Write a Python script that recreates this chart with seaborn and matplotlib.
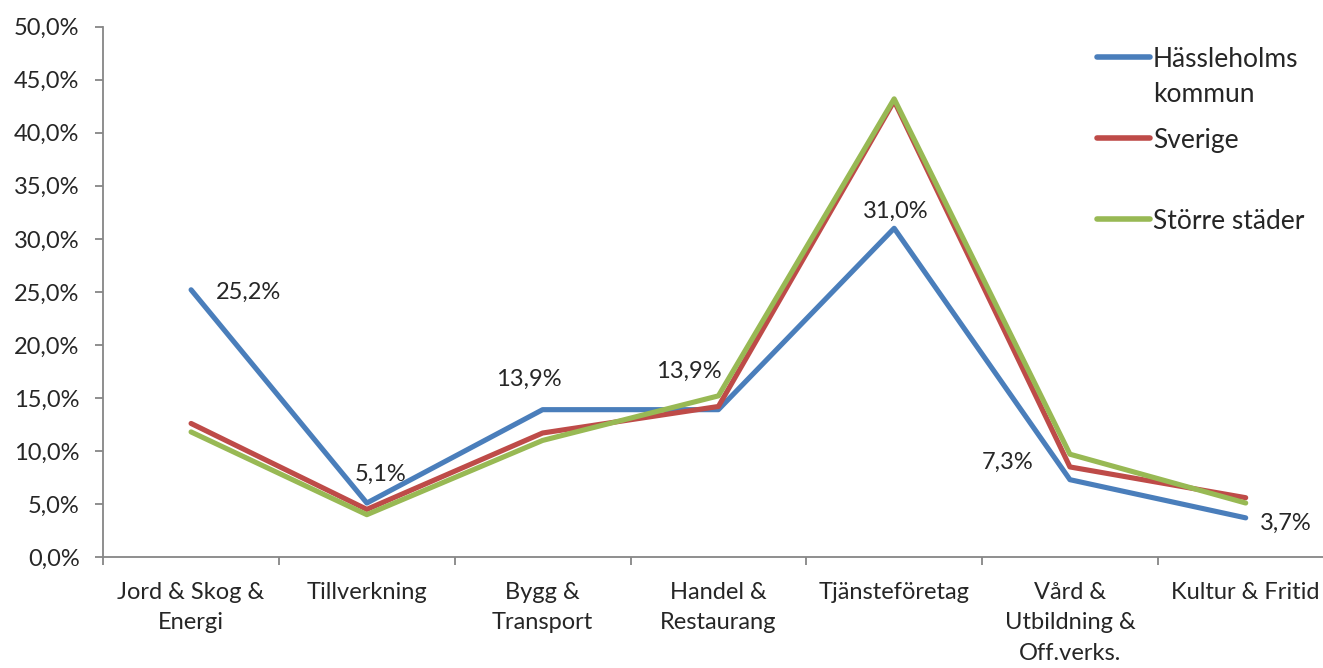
import pandas as pd
import seaborn as sns
import matplotlib.pyplot as plt
from matplotlib.lines import Line2D
from matplotlib.ticker import FuncFormatter, FixedLocator

# Data (share of employment, %)
categories = ['Jord & Skog &\nEnergi', 'Tillverkning', 'Bygg &\nTransport', 'Handel &\nRestaurang',
              'Tjänsteföretag', 'Vård &\nUtbildning &\nOff.verks.', 'Kultur & Fritid']
hassleholm = [25.2, 5.1, 13.9, 13.9, 31.0, 7.3, 3.7]
sverige = [12.6, 4.5, 11.7, 14.2, 43.0, 8.5, 5.6]
storre_stader = [11.8, 4.0, 11.0, 15.2, 43.2, 9.7, 5.1]
series_names = ['Hässleholms\nkommun', 'Sverige', 'Större städer']
colors = ['#4A7EBB', '#BE4B48', '#98B954']

# Long-form table for seaborn
df = pd.DataFrame({
    'Bransch': categories * 3,
    'Andel': hassleholm + sverige + storre_stader,
    'Serie': [series_names[0]] * 7 + [series_names[1]] * 7 + [series_names[2]] * 7,
})

sns.set_style('white')
plt.rcParams['font.family'] = ['Lato', 'DejaVu Sans']
FS = 17

fig = plt.figure(figsize=(13.23, 6.68), dpi=100)
ax = fig.add_axes([0.078, 0.166, 0.93, 0.794])

sns.lineplot(data=df, x='Bransch', y='Andel', hue='Serie', palette=colors,
             linewidth=3.7, sort=False, legend=False, ax=ax)

# Data labels for Hässleholm (offsets in pixels from the point)
offsets = [(57, -3), (14, 29), (-14, 30), (-30, 38), (2, 17), (-62, 17), (40, -5)]
for i, (v, off) in enumerate(zip(hassleholm, offsets)):
    ax.annotate(f'{v:.1f}%'.replace('.', ','), (i, v), xytext=off, textcoords='offset pixels',
                ha='center', va='center', fontsize=FS)

ax.set_xlim(-0.5, 6.5)
ax.set_ylim(0, 50)
ax.yaxis.set_major_locator(FixedLocator([x * 5 for x in range(11)]))
ax.yaxis.set_major_formatter(FuncFormatter(lambda v, p: f'{v:.1f}%'.replace('.', ',')))
ax.xaxis.set_minor_locator(FixedLocator([i - 0.5 for i in range(8)]))

for s in ['top', 'right']:
    ax.spines[s].set_visible(False)
for s in ['left', 'bottom']:
    ax.spines[s].set_color('#868686')
    ax.spines[s].set_linewidth(1.3)

ax.tick_params(axis='y', which='major', length=6, color='#868686', width=1.3,
               left=True, labelsize=FS, pad=11)
ax.tick_params(axis='x', which='major', length=0, labelsize=FS, pad=18)
ax.tick_params(axis='x', which='minor', length=6, color='#868686', width=1.3, bottom=True)
for lbl in ax.get_xticklabels():
    lbl.set_linespacing(1.55)
ax.set_xlabel('')
ax.set_ylabel('')

# Legend in the Excel style: handle aligned with the first text line
W, H = 1323, 668
legend_y = [57, 138, 219]
for name, c, y in zip(series_names, colors, legend_y):
    fig.add_artist(Line2D([1097 / W, 1150 / W], [1 - y / H, 1 - y / H], color=c,
                          linewidth=4, solid_capstyle='round'))
    fig.text(1153 / W, 1 - (y - 10) / H, name, fontsize=19, va='top', ha='left',
             linespacing=1.5)

fig.savefig('out.png', dpi=100)
